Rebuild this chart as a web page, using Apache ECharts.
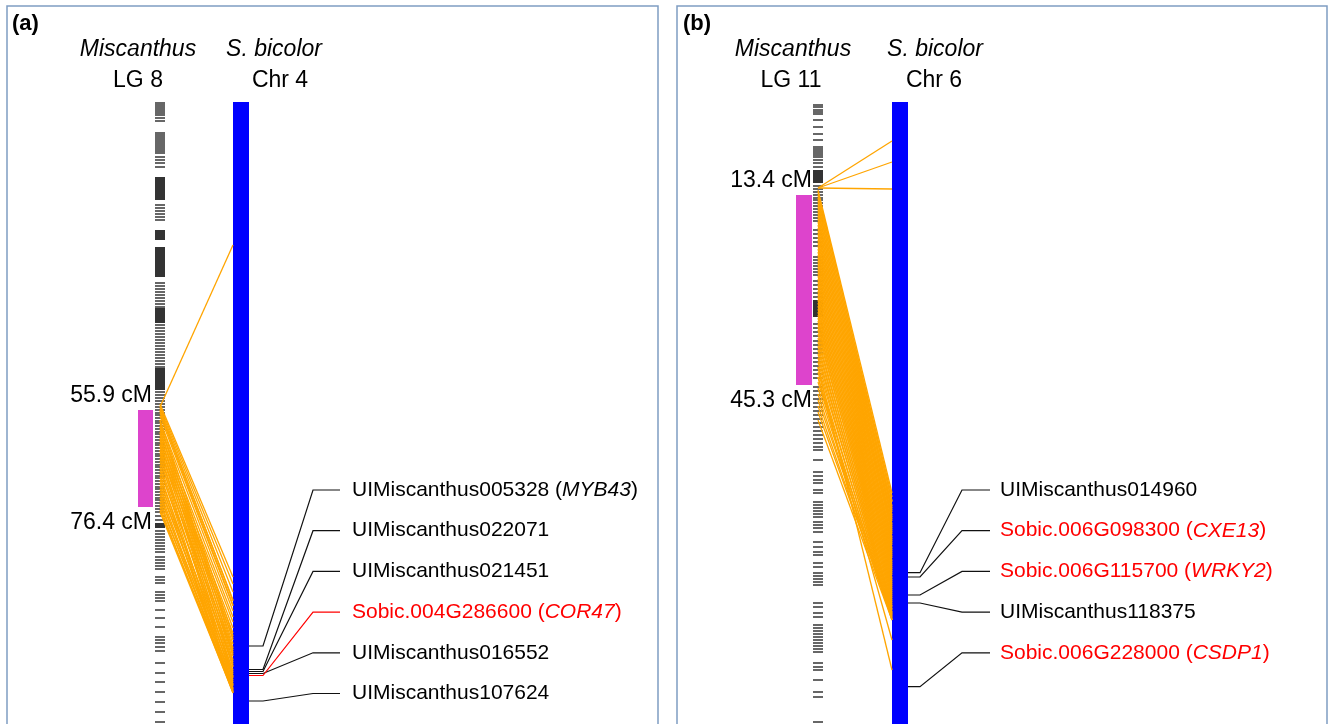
<!DOCTYPE html>
<html><head><meta charset="utf-8">
<script src="https://cdn.jsdelivr.net/npm/echarts@6/dist/echarts.min.js"></script>
<style>html,body{margin:0;padding:0;background:#fff}#c{width:1330px;height:724px}</style>
</head><body><div id="c"></div>
<script>
// ================= DATA (map position units, 0 = top of the sorghum chromosome) =================
const panelTags = ['(a)', '(b)'];
const speciesNames = ['Miscanthus', 'S. bicolor'];
const lgNames = ['LG 8', 'LG 11'];
const chrNames = ['Chr 4', 'Chr 6'];

// Panel (a): Miscanthus LG 8 vs S. bicolor Chr 4
const qtlLabelsA = ['55.9 cM', '76.4 cM'];
const qtlSpanA = [30.8, 40.5];
const chrSpanA = [0, 66];
const markersA = [0.1,0.3,0.5,0.7,0.9,1.1,1.3,1.6,1.9,
  3.1,3.3,3.5,3.7,3.9,4.1,4.3,4.5,4.7,4.9,5.1,5.5,5.8,6.1,6.5,
  10.3,10.6,10.9,11.2,11.5,11.8,
  18.1,18.4,18.7,19.0,19.3,19.6,19.9,20.2,20.5,
  22.3,22.6,22.9,23.2,23.5,23.8,24.1,24.4,24.7,25.0,25.3,25.6,25.9,26.2,26.5,
  29.0,29.3,29.6,29.9,30.2,30.5,
  30.8,31.1,31.3,31.6,31.9,32.1,32.4,32.7,33.0,33.2,33.5,33.8,34.1,34.3,34.6,34.9,35.2,35.4,
  35.7,36.0,36.3,36.5,36.8,37.1,37.4,37.6,37.9,38.2,38.5,38.7,39.0,39.3,39.6,39.8,40.1,40.4,
  40.7,41.0,41.4,41.8,
  42.9,43.2,43.5,43.8,44.1,44.4,44.7,45.0,45.5,45.8,46.1,46.4,46.7,47.5,47.8,48.1,
  49.0,49.3,49.6,49.9,50.8,51.6,52.5,53.5,53.8,54.1,54.5,54.9,56.1,57.1,58.0,59.0,60.0,61.0,62.0];
const markerBlocksA = [[7.5,9.8],[12.8,13.8],[14.5,17.5],[20.6,22.1],[26.6,28.8],[42.1,42.6]];
// [position on LG, position on chromosome]
const linksA = [[30.5,14.3],
  [30.2,47.5],[30.4,48.2],[30.6,49.0],[30.9,49.8],[31.1,50.3],
  [30.8,49.9],[31.4,50.4],[31.9,50.9],[32.5,51.5],[33.1,52.0],[33.7,52.6],[34.3,53.1],[34.9,53.6],
  [31.8,53.4],[32.1,54.6],[32.4,53.8],[32.7,55.2],[33.0,54.2],[33.3,55.8],[33.6,54.8],[33.9,56.4],
  [34.2,55.4],[34.5,57.0],[34.8,56.0],[35.1,57.5],[35.4,56.5],[35.7,58.0],[36.0,55.0],[36.3,57.2],
  [36.6,58.4],[36.9,56.2],[37.2,58.8],[37.5,57.6],[37.8,59.0],[38.1,56.8],[38.4,58.2],[38.7,57.4],
  [39.0,58.6],[39.3,59.1],[39.6,57.8],[39.9,58.9],[40.2,58.3],[40.5,59.1],[40.8,58.7],[41.0,59.0]];
const geneNamesA = ['UIMiscanthus005328','UIMiscanthus022071','UIMiscanthus021451','Sobic.004G286600','UIMiscanthus016552','UIMiscanthus107624'];
const geneSymbolsA = ['MYB43','','','COR47','',''];
const geneCandidateA = [false,false,false,true,false,false];
const genePosA = [54.4, 56.75, 56.95, 57.35, 57.15, 59.9];

// Panel (b): Miscanthus LG 11 vs S. bicolor Chr 6
const qtlLabelsB = ['13.4 cM', '45.3 cM'];
const qtlSpanB = [9.3, 28.3];
const chrSpanB = [0, 66];
const markersB = [0.3,0.5,0.8,1.0,1.2,1.8,2.5,3.2,3.8,4.5,4.7,4.9,5.1,5.3,5.5,5.8,6.1,6.5,
  8.4,8.7,9.0,9.3,9.6,9.8,10.1,10.4,10.7,11.0,11.3,11.6,11.9,12.8,13.2,13.6,14.0,14.4,
  15.5,15.8,16.1,16.4,16.7,17.0,17.3,17.9,18.3,18.7,19.1,19.5,
  22.2,22.6,23.0,23.4,23.9,24.3,24.7,25.1,25.6,26.0,26.4,26.8,27.2,27.6,
  28.5,28.9,29.3,29.7,30.1,30.5,30.9,31.3,31.7,32.1,32.5,32.9,33.3,33.7,34.1,34.5,34.8,35.8,
  37.0,37.4,37.8,38.1,38.8,39.1,40.0,40.3,40.6,40.9,41.2,41.5,42.0,42.3,42.6,43.0,44.0,44.5,
  45.0,45.3,46.1,46.5,47.1,47.4,47.7,48.0,48.3,50.1,50.5,51.1,51.5,
  52.3,52.6,52.9,53.2,53.5,53.8,54.1,54.4,54.7,55.0,56.1,56.5,56.8,57.8,59.0,59.5,62.0];
const markerBlocksB = [[6.8,8.1],[19.8,21.5]];
const linksB = [[8.6,3.9],[8.6,6.0],[8.6,8.7],
  [8.8,39.1],[9.0,40.0],[9.3,39.5],[9.6,40.6],[9.9,39.9],[10.2,41.0],[10.5,40.4],[10.8,41.5],
  [11.1,40.8],[11.4,41.9],[11.7,41.3],[12.0,42.4],[12.3,41.7],[12.6,42.8],[12.9,42.2],[13.2,43.2],
  [13.5,42.6],[13.8,43.7],[14.1,43.0],[14.4,44.1],[14.7,43.5],[15.0,44.6],[15.3,43.9],[15.6,45.0],
  [15.9,44.3],[16.2,45.4],[16.5,44.8],[16.8,45.9],[17.1,45.2],[17.4,46.3],[17.7,45.6],[18.0,46.7],
  [18.3,46.1],[18.6,47.1],[18.9,46.5],[19.2,47.6],[19.5,46.9],[19.8,48.0],[20.1,47.3],[20.4,48.4],
  [20.7,47.8],[21.0,48.8],[21.3,48.2],[21.6,49.2],[21.9,48.6],[22.2,49.6],[22.5,49.0],[22.8,50.0],
  [23.2,49.4],[23.6,50.4],[24.0,49.8],[24.4,50.7],[24.8,50.2],[25.2,51.0],[25.6,50.5],[26.0,51.3],
  [26.5,50.8],[27.0,51.6],[27.5,51.1],[28.0,51.8],[28.6,51.4],[29.2,51.8],[29.8,51.2],[30.4,51.7],
  [31.0,51.5],[31.8,51.8],[26.5,56.8],[27.5,53.8]];
const geneNamesB = ['UIMiscanthus014960','Sobic.006G098300','Sobic.006G115700','UIMiscanthus118375','Sobic.006G228000'];
const geneSymbolsB = ['','CXE13','WRKY2','','CSDP1'];
const geneCandidateB = [false,true,true,false,true];
const genePosB = [47.07, 47.5, 49.3, 50.1, 58.47];

// ================= LAYOUT / STYLE =================
const FONT = '"Liberation Sans", Arial, Helvetica, sans-serif';
const GRID_TOP = 6, GRID_H = 758;           // panel frame extends below the page
const Y_MIN = -9.6, Y_MAX = Y_MIN + GRID_H / 10;
const LABEL_TOP = 38.8, LABEL_STEP = 4.07;
const HEAD_V = {tag: -7.8, species: -5.2, sub: -2.1};
const QTL_GAP = [1.4, 1.6];
const TICK_H = 1.4;
const COLORS = {marker:'#262626', block:'#333333', qtl:'#DD44CC', chr:'#0000FF', link:'#FFA500', red:'#FF0000', border:'#7f9dc2'};

const panels = [
  {grid:{left:7, width:651}, lgX:[148,158], qtlX:[131,146], cmX:145, chrX:[226,242], linkX:[153,226],
   conn:[242,256,306,333], textX:345, tagX:5, spX:[131,267], subX:[131,273], redConnector:true,
   qtlLabels:qtlLabelsA, qtlSpan:qtlSpanA, chrSpan:chrSpanA, markers:markersA, blocks:markerBlocksA,
   links:linksA, genes:geneNamesA, symbols:geneSymbolsA, cand:geneCandidateA, genePos:genePosA},
  {grid:{left:677, width:650}, lgX:[136,146], qtlX:[119,135], cmX:135, chrX:[215,231], linkX:[141,215],
   conn:[231,243,285,313], textX:323, tagX:6, spX:[116,258], subX:[114,257], redConnector:false,
   qtlLabels:qtlLabelsB, qtlSpan:qtlSpanB, chrSpan:chrSpanB, markers:markersB, blocks:markerBlocksB,
   links:linksB, genes:geneNamesB, symbols:geneSymbolsB, cand:geneCandidateB, genePos:genePosB}
];

function rectSeries(p, data, x0, x1, fill, z) {
  return {type:'custom', xAxisIndex:p, yAxisIndex:p, z, silent:true, animation:false,
    data: data.map(d => Array.isArray(d) ? d : [d, d]),
    renderItem: (params, api) => {
      const a = api.coord([x0, api.value(0)]), b = api.coord([x1, api.value(1)]);
      let y = a[1], h = b[1] - a[1];
      if (h < TICK_H) { y = a[1] - TICK_H / 2; h = TICK_H; }
      return {type:'rect', shape:{x:a[0], y, width:b[0]-a[0], height:h}, style:{fill}};
    }};
}

const grids = [], xAxes = [], yAxes = [], series = [];
panels.forEach((L, p) => {
  grids.push({left:L.grid.left, width:L.grid.width, top:GRID_TOP, height:GRID_H, show:true,
    borderColor:COLORS.border, borderWidth:1.5, backgroundColor:'transparent',
    containLabel:false, outerBoundsMode:'none'});
  xAxes.push({type:'value', gridIndex:p, min:0, max:L.grid.width, show:false});
  yAxes.push({type:'value', gridIndex:p, min:Y_MIN, max:Y_MAX, inverse:true, show:false});

  series.push(rectSeries(p, L.markers, L.lgX[0], L.lgX[1], COLORS.marker, 2));
  series.push(rectSeries(p, L.blocks, L.lgX[0], L.lgX[1], COLORS.block, 2));
  series.push(rectSeries(p, [L.qtlSpan], L.qtlX[0], L.qtlX[1], COLORS.qtl, 2));
  series.push(rectSeries(p, [L.chrSpan], L.chrX[0], L.chrX[1], COLORS.chr, 3));

  // synteny links
  series.push({type:'custom', xAxisIndex:p, yAxisIndex:p, z:4, silent:true, animation:false,
    data:L.links,
    renderItem:(params, api) => {
      const a = api.coord([L.linkX[0], api.value(0)]), b = api.coord([L.linkX[1], api.value(1)]);
      return {type:'line', shape:{x1:a[0], y1:a[1], x2:b[0], y2:b[1]},
        style:{stroke:COLORS.link, lineWidth:1.3}};
    }});

  // gene connectors + labels
  series.push({type:'custom', xAxisIndex:p, yAxisIndex:p, z:5, silent:true, animation:false,
    data:L.genePos.map((v, i) => [v, LABEL_TOP + i * LABEL_STEP]),
    renderItem:(params, api) => {
      const i = params.dataIndex, v = api.value(0), lv = api.value(1);
      const c = L.conn;
      const pts = [[c[0], v], [c[1], v], [c[2], lv], [c[3], lv]].map(q => api.coord(q));
      const red = L.cand[i];
      const tcol = red ? COLORS.red : '#000';
      const lcol = (red && L.redConnector) ? COLORS.red : '#111';
      const tp = api.coord([L.textX, lv]);
      const sym = L.symbols[i];
      const text = sym ? '{n|' + L.genes[i] + ' (}{i|' + sym + '}{n|)}' : '{n|' + L.genes[i] + '}';
      return {type:'group', children:[
        {type:'polyline', shape:{points:pts}, style:{stroke:lcol, lineWidth:1.2, fill:'none'}, z2: red ? 2 : 1},
        {type:'text', x:tp[0], y:tp[1], style:{text, align:'left', verticalAlign:'middle',
          rich:{n:{fontSize:21, fontFamily:FONT, fill:tcol}, i:{fontSize:21, fontFamily:FONT, fontStyle:'italic', fill:tcol}}}}
      ]};
    }});

  // QTL cM labels
  series.push({type:'custom', xAxisIndex:p, yAxisIndex:p, z:6, silent:true, animation:false,
    data:[[L.qtlSpan[0] - QTL_GAP[0]], [L.qtlSpan[1] + QTL_GAP[1]]],
    renderItem:(params, api) => {
      const pt = api.coord([L.cmX, api.value(0)]);
      return {type:'text', x:pt[0], y:pt[1], style:{text:L.qtlLabels[params.dataIndex], align:'right',
        verticalAlign:'middle', fontSize:23, fontFamily:FONT, fill:'#000'}};
    }});

  // headers
  series.push({type:'custom', xAxisIndex:p, yAxisIndex:p, z:6, silent:true, animation:false,
    data:[[0]],
    renderItem:(params, api) => {
      const t = (x, v, text, opt) => {
        const pt = api.coord([x, v]);
        return {type:'text', x:pt[0], y:pt[1], style:Object.assign({text, align:'center', verticalAlign:'middle',
          fontSize:23, fontFamily:FONT, fill:'#000'}, opt || {})};
      };
      return {type:'group', children:[
        t(L.tagX, HEAD_V.tag, panelTags[p], {align:'left', fontWeight:'bold', fontSize:22}),
        t(L.spX[0], HEAD_V.species, speciesNames[0], {fontStyle:'italic'}),
        t(L.spX[1], HEAD_V.species, speciesNames[1], {fontStyle:'italic'}),
        t(L.subX[0], HEAD_V.sub, lgNames[p]),
        t(L.subX[1], HEAD_V.sub, chrNames[p])
      ]};
    }});
});

const chart = echarts.init(document.getElementById('c'), null, {renderer:'canvas'});
chart.setOption({animation:false, backgroundColor:'#fff', grid:grids, xAxis:xAxes, yAxis:yAxes, series});
</script></body></html>
